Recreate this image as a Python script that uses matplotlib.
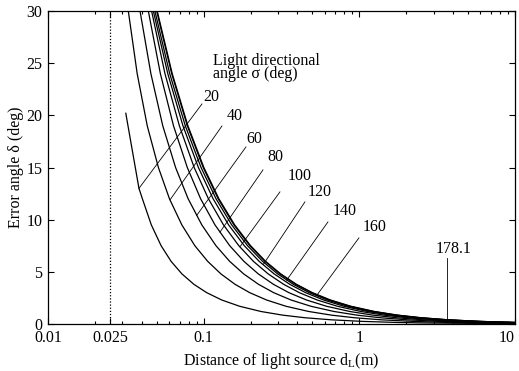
import matplotlib
matplotlib.use('Agg')
import matplotlib.pyplot as plt
from matplotlib.ticker import FixedLocator, LogLocator, NullFormatter

plt.rcParams['font.family'] = ['Liberation Serif', 'DejaVu Serif']
plt.rcParams['mathtext.fontset'] = 'custom'
plt.rcParams['mathtext.rm'] = 'Liberation Serif'
plt.rcParams['mathtext.it'] = 'Liberation Serif:italic'
plt.rcParams['font.size'] = 11.5

levels = [30, 24, 19, 15, 12, 9.5, 7.5, 6, 4.8, 3.8, 3, 2.3, 1.7, 1.2, 0.85, 0.6, 0.4, 0.25, 0.15]

# sigma = 20 deg starts lower (at about 20 deg) and has its own levels
d_20 = [0.0316, 0.0384, 0.0404, 0.0461, 0.0533, 0.0618, 0.0725, 0.0866, 0.1047, 0.1307,
        0.1702, 0.2332, 0.3214, 0.4473, 0.6615, 1.047, 1.732, 2.589, 10]
e_20 = [20.2, 13.0, 12, 9.5, 7.5, 6, 4.8, 3.8, 3, 2.3, 1.7, 1.2, 0.85, 0.6, 0.4, 0.25, 0.15, 0.1, 0.026]

d_40 = [0.0328, 0.0374, 0.0434, 0.0512, 0.0603, 0.0724, 0.0878, 0.1062, 0.1291, 0.1592,
        0.1978, 0.2536, 0.3380, 0.4728, 0.6616, 0.931, 1.390, 2.215, 3.68, 10]
d_60 = [0.0390, 0.0458, 0.0546, 0.0660, 0.0795, 0.0973, 0.1200, 0.1470, 0.1808, 0.2252,
        0.2820, 0.3642, 0.4885, 0.687, 0.965, 1.362, 2.037, 3.252, 5.412, 10]
d_80 = [0.0441, 0.0527, 0.0640, 0.0785, 0.0956, 0.1182, 0.1471, 0.1815, 0.2244, 0.2809,
        0.3531, 0.4576, 0.6157, 0.868, 1.222, 1.727, 2.585, 4.13, 6.877, 10]
d_100 = [0.0463, 0.0564, 0.0698, 0.0869, 0.1073, 0.1340, 0.1683, 0.2089, 0.2598, 0.3267,
         0.4123, 0.5360, 0.7233, 1.022, 1.441, 2.039, 3.056, 4.886, 8.139, 10]
d_120 = [0.0475, 0.0588, 0.0736, 0.0925, 0.1150, 0.1446, 0.1825, 0.2275, 0.2838, 0.3578,
         0.4525, 0.5895, 0.7966, 1.1275, 1.591, 2.253, 3.378, 5.403, 9.003, 10]
d_140 = [0.0486, 0.0605, 0.0762, 0.0962, 0.1201, 0.1514, 0.1916, 0.2392, 0.2988, 0.3772,
         0.4776, 0.6226, 0.8421, 1.1926, 1.683, 2.384, 3.576, 5.721, 9.534, 10]
d_160 = [0.0499, 0.0623, 0.0785, 0.0993, 0.1239, 0.1564, 0.1979, 0.2473, 0.3089, 0.3901,
         0.4939, 0.6441, 0.8712, 1.234, 1.742, 2.467, 3.701, 5.921, 10]
d_178 = [0.0503, 0.0628, 0.0792, 0.1003, 0.1253, 0.1582, 0.2003, 0.2503, 0.3128, 0.3950,
         0.5003, 0.6525, 0.8827, 1.2503, 1.765, 2.500, 3.750, 6.000, 10]
# value at d = 10 m for each curve read on the shared levels
end_val = {'40': 0.055, '60': 0.081, '80': 0.103, '100': 0.122, '120': 0.135,
           '140': 0.143, '160': 0.148, '178.1': 0.150}

sigma = ['20', '40', '60', '80', '100', '120', '140', '160', '178.1']
curve_d = [d_20, d_40, d_60, d_80, d_100, d_120, d_140, d_160, d_178]

# label text positions (d, delta) and leader lines (start -> point on curve)
lab_d = [0.1122, 0.1577, 0.212, 0.289, 0.4123, 0.558, 0.808, 1.25, 4.05]
lab_e = [21.76, 19.94, 17.69, 15.96, 14.14, 12.61, 10.83, 9.25, 7.19]
lead_d0 = [0.0975, 0.1311, 0.1869, 0.2404, 0.309, 0.447, 0.6284, 0.994, 3.64]
lead_e0 = [21.09, 18.98, 16.97, 14.77, 12.66, 11.70, 9.78, 8.25, 6.33]
lead_d1 = [0.0384, 0.0608, 0.0901, 0.1272, 0.171, 0.2414, 0.3413, 0.534, 3.64]
lead_e1 = [13.0, 11.9, 10.4, 8.8, 7.4, 5.7, 4.2, 2.77, 0.41]

fig = plt.figure(figsize=(5.19, 3.71), dpi=100)
ax = fig.add_axes([48/519, 1-324/371, 467/519, 313/371])

for s, d in zip(sigma, curve_d):
    if s == '20':
        e = e_20
    else:
        e = levels[:len(d)-1] + [end_val[s]]
    ax.plot(d, e, color='black', lw=0.9)

# dotted line at d = 0.025 m
ax.plot([0.025, 0.025], [0, 30], color='black', lw=0.9, linestyle=(0, (1, 1.5)))

for i in range(len(sigma)):
    ax.plot([lead_d0[i], lead_d1[i]], [lead_e0[i], lead_e1[i]], color='black', lw=0.6)
    ax.text(lab_d[i], lab_e[i], sigma[i], ha='center', va='center')

ax.text(0.1147, 24.80, 'Light directional', ha='left', va='baseline')
ax.text(0.1147, 23.55, 'angle σ (deg)', ha='left', va='baseline')

ax.set_xscale('log')
ax.set_xlim(0.01, 10)
ax.set_ylim(0, 30)
ax.xaxis.set_major_locator(FixedLocator([0.01, 0.025, 0.1, 1, 10]))
ax.set_xticklabels(['0.01', '0.025', '0.1', '1', '10'])
ax.xaxis.set_minor_locator(LogLocator(base=10, subs=range(2, 10)))
ax.xaxis.set_minor_formatter(NullFormatter())
ax.set_yticks([0, 5, 10, 15, 20, 25, 30])
ax.tick_params(which='both', direction='in', top=True, right=True, width=0.8)
ax.tick_params(which='major', length=4, pad=4)
ax.tick_params(which='minor', length=2)
ax.get_xticklabels()[-1].set_horizontalalignment('right')
for sp in ax.spines.values():
    sp.set_linewidth(0.9)

ax.set_xlabel(r'Distance of light source d$_{\mathrm{L}}$(m)', labelpad=4)
ax.set_ylabel('Error angle δ (deg)', labelpad=2)

fig.savefig('out.png', dpi=100)
